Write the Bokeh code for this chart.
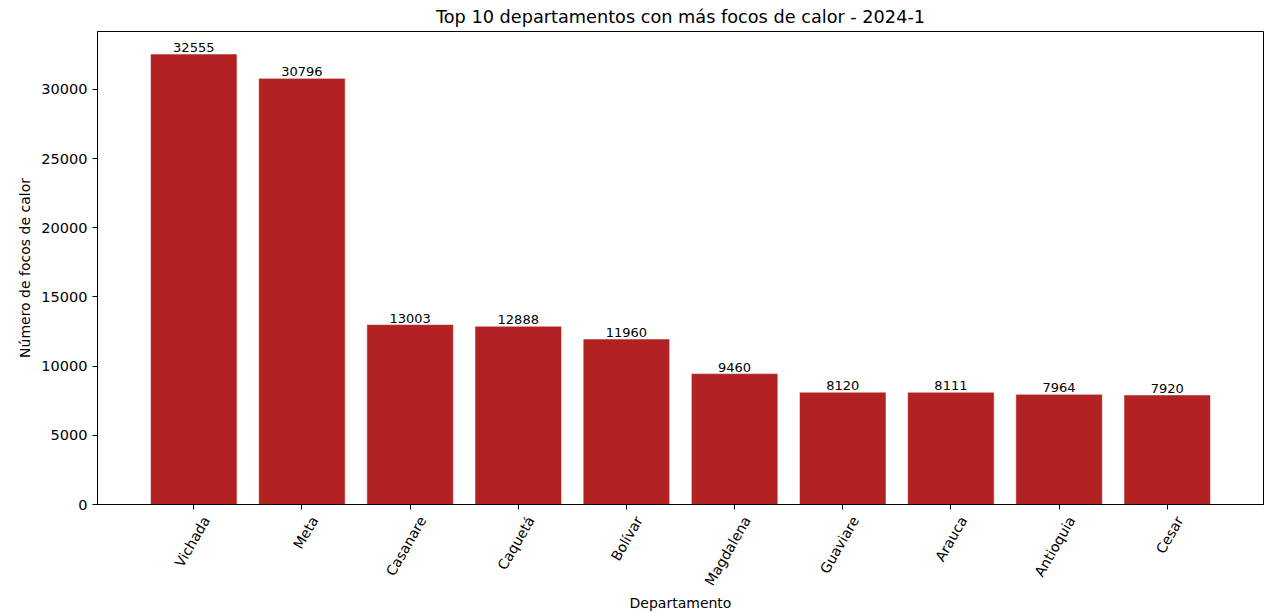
from bokeh.plotting import figure
from bokeh.models import Range1d, FixedTicker, LinearAxis, ColumnDataSource, CustomJSTickFormatter
from bokeh.embed import file_html
from bokeh.resources import INLINE
from bokeh.core.properties import value
import math

departamentos = ["Vichada", "Meta", "Casanare", "Caquetá", "Bolívar",
                 "Magdalena", "Guaviare", "Arauca", "Antioquia", "Cesar"]
focos = [32555, 30796, 13003, 12888, 11960, 9460, 8120, 8111, 7964, 7920]
y_ticks = [0, 5000, 10000, 15000, 20000, 25000, 30000]

FONT = "DejaVu Sans"
xs = list(range(len(departamentos)))
src = ColumnDataSource(dict(x=xs, top=focos, lbl=[str(v) for v in focos]))

p = figure(width=1266, height=614, output_backend="svg", toolbar_location=None,
           x_range=Range1d(-0.89, len(departamentos) - 1 + 0.89),
           y_range=Range1d(0, max(focos) * 1.05),
           min_border_left=97, min_border_right=3, min_border_top=0, min_border_bottom=0,
           title="Top 10 departamentos con más focos de calor - 2024-1")
p.title.align = "center"
p.title.text_font = FONT
p.title.text_font_size = "17.7px"
p.title.text_font_style = "normal"
p.title.text_color = "#000000"
p.title.standoff = 9

p.xgrid.visible = False
p.ygrid.visible = False
p.outline_line_color = "#000000"
p.outline_line_width = 1
p.background_fill_color = "white"
p.border_fill_color = "white"

p.vbar(x="x", top="top", width=0.8, bottom=0, source=src,
       fill_color="#B22222", line_color="#ffffff", line_alpha=0.55, line_width=1)
p.text(x="x", y="top", text="lbl", source=src, text_align="center",
       text_baseline="bottom", text_font=value(FONT), text_font_size="13px",
       text_color="#000000", y_offset=-2)

# x axis (ticks only)
xa = p.xaxis[0]
xa.ticker = FixedTicker(ticks=xs)
xa.formatter = CustomJSTickFormatter(code="return ''")
xa.major_label_standoff = 0
xa.major_tick_out = 5
xa.major_tick_in = 0
xa.minor_tick_line_color = None
xa.axis_line_color = "#000000"
xa.major_tick_line_color = "#000000"

# label axis (rotated names)
OFF = 0.115
la = LinearAxis(ticker=FixedTicker(ticks=[x + OFF for x in xs]),
                major_label_overrides={x + OFF: d for x, d in zip(xs, departamentos)},
                axis_line_color=None, major_tick_line_color=None, minor_tick_line_color=None,
                major_label_orientation=math.pi / 3, major_label_standoff=2,
                major_label_text_font=FONT, major_label_text_font_size="14px",
                major_label_text_color="#000000",
                axis_label="Departamento", axis_label_text_font=FONT,
                axis_label_text_font_size="14px", axis_label_text_font_style="normal",
                axis_label_text_color="#000000", axis_label_standoff=0)
p.add_layout(la, "below")

ya = p.yaxis[0]
ya.ticker = FixedTicker(ticks=y_ticks)
ya.major_label_text_font = FONT
ya.major_label_text_font_size = "14.5px"
ya.major_label_text_color = "#000000"
ya.major_tick_out = 5
ya.major_tick_in = 0
ya.minor_tick_line_color = None
ya.axis_line_color = "#000000"
ya.axis_label = "Número de focos de calor"
ya.axis_label_text_font = FONT
ya.axis_label_text_font_size = "14px"
ya.axis_label_text_font_style = "normal"
ya.axis_label_text_color = "#000000"
ya.axis_label_standoff = 5

open("out.html", "w").write(file_html(p, INLINE))
